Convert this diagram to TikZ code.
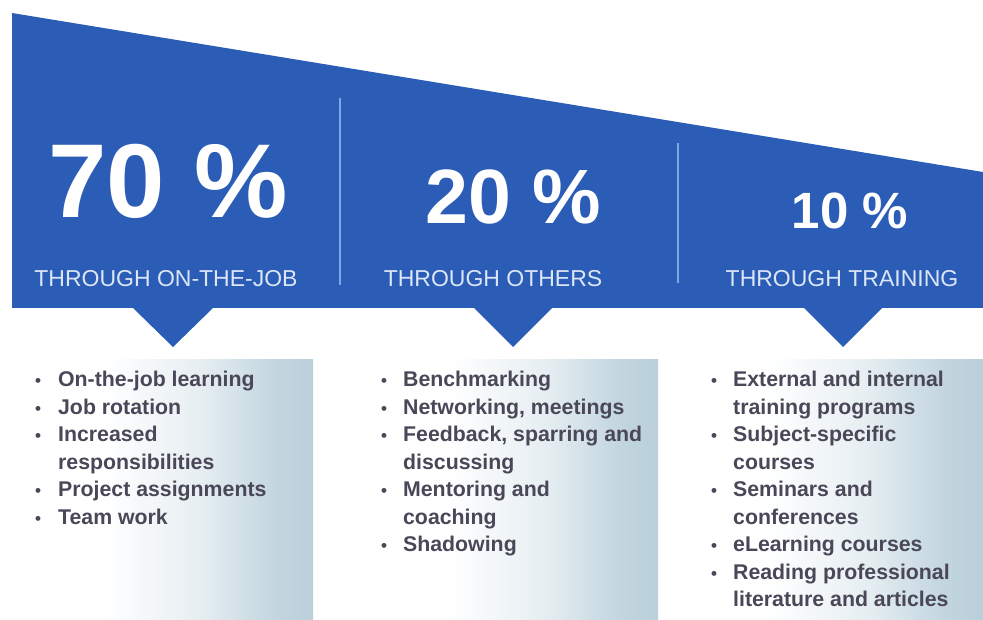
\documentclass[tikz,border=0pt]{standalone}
\usepackage{fontspec}
\setmainfont{Liberation Sans}
\usetikzlibrary{positioning}
\definecolor{bannerblue}{HTML}{2B5DB6}
\definecolor{rulelight}{HTML}{7AAAE6}
\definecolor{captionblue}{HTML}{DCE6F6}
\definecolor{panelgrey}{HTML}{B9CFDA}
\definecolor{listtext}{HTML}{4A4858}
% the box is mapped onto 25bp..75bp of the shading
\pgfdeclarehorizontalshading{panelfade}{100bp}{color(0bp)=(white); color(38bp)=(white);
    color(55bp)=(panelgrey!35!white); color(68bp)=(panelgrey!85!white); color(75bp)=(panelgrey);
    color(100bp)=(panelgrey)}
\tikzstyle{pct} = [text=white, font=\bfseries, anchor=base, inner sep=0pt]
\tikzstyle{caption} = [text=captionblue, font=\fontsize{23}{23}\selectfont, anchor=base, inner sep=0pt]
\tikzstyle{items} = [text=listtext, font=\bfseries\fontsize{21.3}{27.5}\selectfont, anchor=base west, inner sep=0pt, align=left]
\tikzstyle{panel} = [shading=panelfade, draw=none]
\newcommand{\blt}{{\fontsize{17}{17}\selectfont\textbullet}}

\begin{document}
\begin{tikzpicture}[x=1pt,y=-1pt]
        \useasboundingbox (0,0) rectangle (983,620);

        % shaded panels behind the lists
        \shade[panel] (30,360) rectangle (313,620);
        \shade[panel] (373,360) rectangle (658,620);
        \shade[panel] (690,360) rectangle (983,620);

        % sloping banner with the three pointers
        \fill[bannerblue] (12,13) -- (983,172) -- (983,308)
            -- (882,308) -- (843,347) -- (804,308)
            -- (552,308) -- (513,347) -- (474,308)
            -- (213,308) -- (173,347) -- (133,308)
            -- (12,308) -- cycle;

        \draw[rulelight, line width=2pt] (340,98) -- (340,285);
        \draw[rulelight, line width=2pt] (678,143) -- (678,283);

        \node[pct, font=\bfseries\fontsize{105}{105}\selectfont] (Pct70) at (168,218) {70 \%};
        \node[pct, font=\bfseries\fontsize{77}{77}\selectfont] (Pct20) at (513,224) {20 \%};
        \node[pct, font=\bfseries\fontsize{51}{51}\selectfont] (Pct10) at (850,229) {10 \%};

        \node[caption] (Job) at (166,287) {THROUGH ON-THE-JOB};
        \node[caption] (Others) at (493,287) {THROUGH OTHERS};
        \node[caption] (Training) at (842,287) {THROUGH TRAINING};

        \node[items] (JobList) at (35,387) {%
            \begin{tabular}[t]{@{}c@{\hspace{17pt}}l@{}}
            \blt & On-the-job learning\\
            \blt & Job rotation\\
            \blt & Increased\\
                 & responsibilities\\
            \blt & Project assignments\\
            \blt & Team work
            \end{tabular}};

        \node[items] (OthersList) at (381,387) {%
            \begin{tabular}[t]{@{}c@{\hspace{16pt}}l@{}}
            \blt & Benchmarking\\
            \blt & Networking, meetings\\
            \blt & Feedback, sparring and\\
                 & discussing\\
            \blt & Mentoring and\\
                 & coaching\\
            \blt & Shadowing
            \end{tabular}};

        \node[items] (TrainingList) at (711,387) {%
            \begin{tabular}[t]{@{}c@{\hspace{16pt}}l@{}}
            \blt & External and internal\\
                 & training programs\\
            \blt & Subject-specific\\
                 & courses\\
            \blt & Seminars and\\
                 & conferences\\
            \blt & eLearning courses\\
            \blt & Reading professional\\
                 & literature and articles
            \end{tabular}};

\end{tikzpicture}
\end{document}
